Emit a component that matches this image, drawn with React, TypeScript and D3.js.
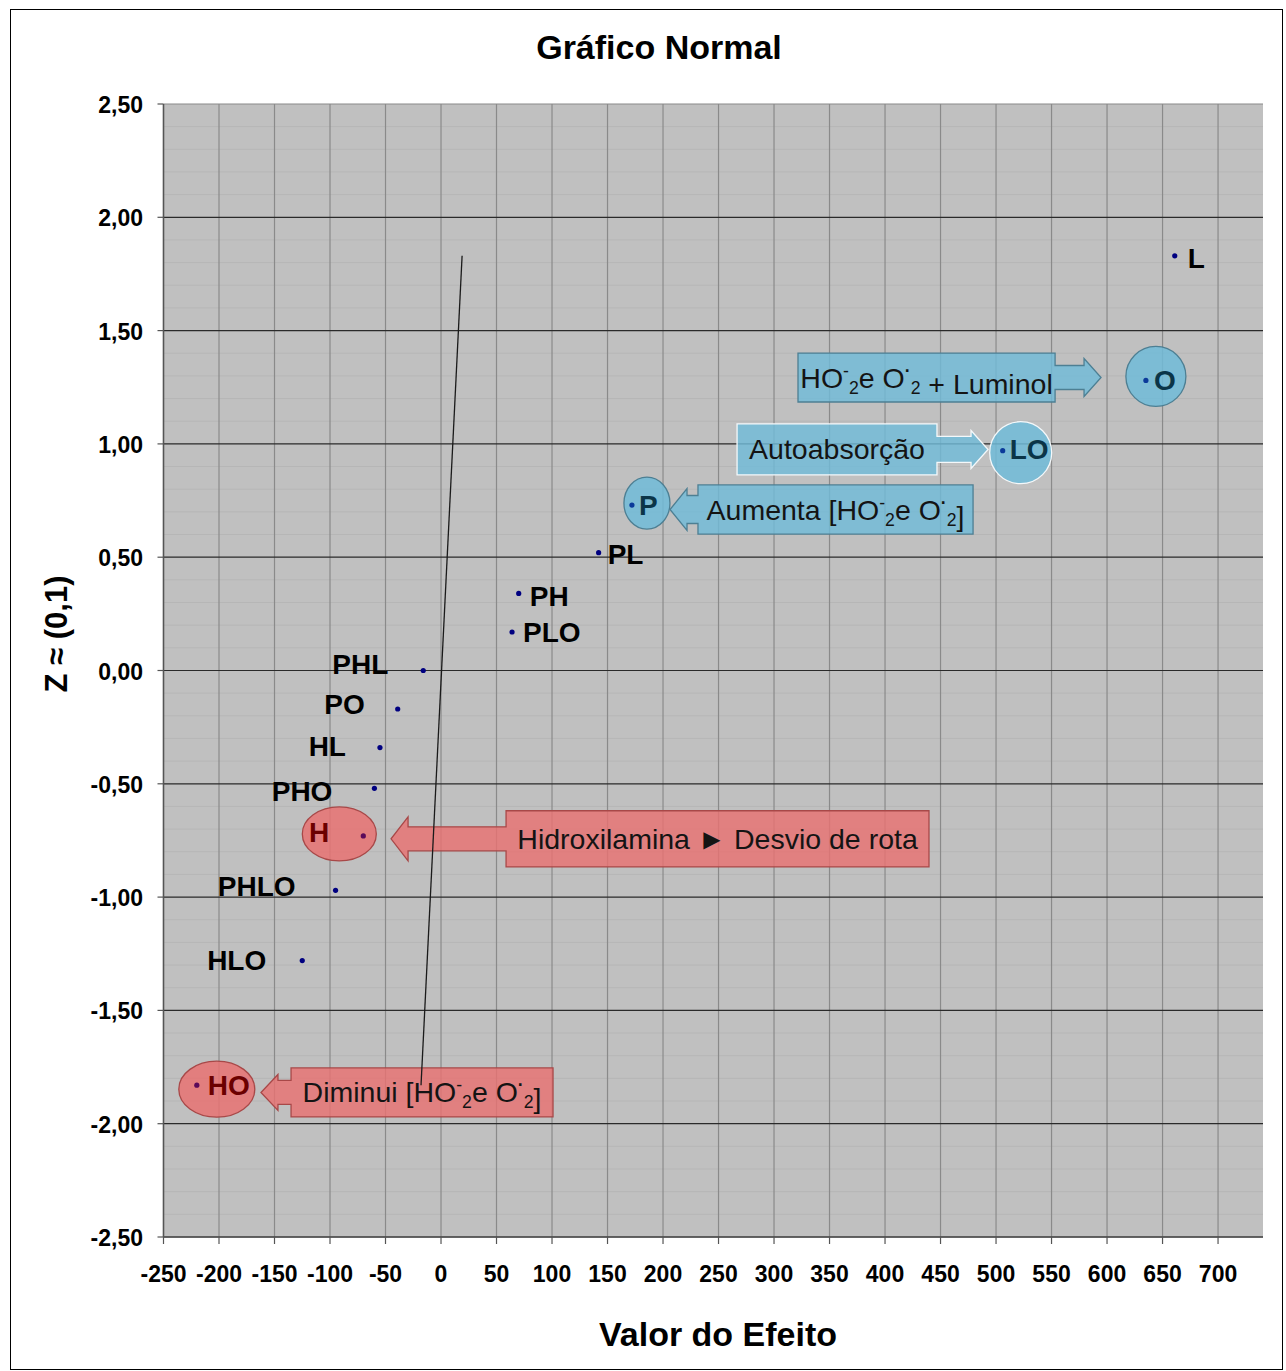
import React from "react";
import * as d3 from "d3";

// ---------- data ----------
const pointNames = ["HO", "HLO", "PHLO", "H", "PHO", "HL", "PO", "PHL", "PLO", "PH", "PL", "P", "LO", "O", "L"];
const effectValues = [-220, -125, -95, -70, -60, -55, -39, -16, 64, 70, 142, 172, 506, 635, 661];
const zValues = [-1.83, -1.28, -0.97, -0.73, -0.52, -0.34, -0.17, 0, 0.17, 0.34, 0.52, 0.73, 0.97, 1.28, 1.83];

const xTickValues = [-250, -200, -150, -100, -50, 0, 50, 100, 150, 200, 250, 300, 350, 400, 450, 500, 550, 600, 650, 700];
const yTickValues = [-2.5, -2.0, -1.5, -1.0, -0.5, 0, 0.5, 1.0, 1.5, 2.0, 2.5];
const yTickLabels = ["-2,50", "-2,00", "-1,50", "-1,00", "-0,50", "0,00", "0,50", "1,00", "1,50", "2,00", "2,50"];

const refLineX = [19, -18];
const refLineY = [1.83, -1.83];

const titleText = "Gráfico Normal";
const xAxisTitle = "Valor do Efeito";
const yAxisTitle = "Z ≈ (0,1)";

// callouts in data coords: box [x0,x1] x [yTop,yBot], arrow tip x
const calloutIds = ["luminol", "auto", "aumenta", "hidrox", "diminui"];
const calloutBoxX0 = [321.6, 266.7, 231.5, 58.6, -135.1];
const calloutBoxX1 = [553.2, 446.8, 479.3, 439.6, 100.9];
const calloutBoxYTop = [1.401, 1.088, 0.819, -0.619, -1.754];
const calloutBoxYBot = [1.185, 0.863, 0.602, -0.867, -1.970];
const calloutTipX = [594.6, 492.8, 206.3, -45, -162.2];

// ---------- layout / style ----------
const W = 1286;
const H = 1371;
const plotLeft = 163.5;
const plotRight = 1263;
const plotTop = 104;
const plotBottom = 1237;
const FONT = "'Liberation Sans', Arial, Helvetica, sans-serif";

const labelStyle: Record<string, { anchor: string; dx: number; dy: number; color: string }> = {
  L: { anchor: "start", dx: 13, dy: 12, color: "#000" },
  O: { anchor: "start", dx: 8, dy: 10, color: "#0b3548" },
  LO: { anchor: "start", dx: 7, dy: 8, color: "#0b3548" },
  P: { anchor: "start", dx: 7, dy: 10, color: "#0b3548" },
  PL: { anchor: "start", dx: 9, dy: 11, color: "#000" },
  PH: { anchor: "start", dx: 11, dy: 13, color: "#000" },
  PLO: { anchor: "start", dx: 11, dy: 10, color: "#000" },
  PHL: { anchor: "end", dx: -35, dy: 3, color: "#000" },
  PO: { anchor: "end", dx: -33, dy: 5, color: "#000" },
  HL: { anchor: "end", dx: -34, dy: 8, color: "#000" },
  PHO: { anchor: "end", dx: -42, dy: 13, color: "#000" },
  H: { anchor: "end", dx: -34, dy: 6, color: "#6b0000" },
  PHLO: { anchor: "end", dx: -40, dy: 6, color: "#000" },
  HLO: { anchor: "end", dx: -36, dy: 9, color: "#000" },
  HO: { anchor: "start", dx: 11, dy: 10, color: "#6b0000" },
};

const dotColor: Record<string, string> = { H: "#5a0a5a", HO: "#5a0a5a", O: "#0b3a9a", LO: "#0b3a9a", P: "#0b3a9a" };

const ellipseStyle: Record<string, { dx: number; dy: number; rx: number; ry: number; fill: string; stroke: string }> = {
  O: { dx: 10, dy: -4, rx: 30, ry: 30, fill: "#70bbd8", stroke: "#4d7f93" },
  LO: { dx: 18, dy: 2, rx: 31, ry: 31, fill: "#70bbd8", stroke: "#f4f8fa" },
  P: { dx: 15, dy: -2, rx: 23, ry: 26, fill: "#70bbd8", stroke: "#4d7f93" },
  H: { dx: -24, dy: -2, rx: 37, ry: 27, fill: "#e87272", stroke: "#a84848" },
  HO: { dx: 20, dy: 4, rx: 38, ry: 28, fill: "#e87272", stroke: "#a84848" },
};

const calloutStyle: Record<string, { fill: string; stroke: string; shaft: number; head: number }> = {
  luminol: { fill: "#70bbd8", stroke: "#4d7f93", shaft: 12, head: 19 },
  auto: { fill: "#70bbd8", stroke: "#f4f8fa", shaft: 13, head: 19 },
  aumenta: { fill: "#70bbd8", stroke: "#4d7f93", shaft: 14, head: 21 },
  hidrox: { fill: "#e87272", stroke: "#a84848", shaft: 12, head: 22 },
  diminui: { fill: "#e87272", stroke: "#a84848", shaft: 12, head: 18 },
};

function HO2eO2() {
  // HO⁻₂ e O·₂
  return (
    <>
      <tspan>HO</tspan>
      <tspan fontSize="0.62em" dy="-11">-</tspan>
      <tspan fontSize="0.62em" dy="17">2</tspan>
      <tspan dy="-6">e O</tspan>
      <tspan fontSize="0.62em" dy="-11" fontWeight="bold">·</tspan>
      <tspan fontSize="0.62em" dy="17">2</tspan>
      <tspan dy="-6"></tspan>
    </>
  );
}

function calloutText(id: string) {
  if (id === "luminol")
    return (
      <>
        <HO2eO2 />
        <tspan> + Luminol</tspan>
      </>
    );
  if (id === "auto") return <tspan>Autoabsorção</tspan>;
  if (id === "aumenta")
    return (
      <>
        <tspan>Aumenta [</tspan>
        <HO2eO2 />
        <tspan>]</tspan>
      </>
    );
  if (id === "hidrox") return <tspan>Hidroxilamina ► Desvio de rota</tspan>;
  return (
    <>
      <tspan>Diminui [</tspan>
      <HO2eO2 />
      <tspan>]</tspan>
    </>
  );
}

export default function App() {
  const x = d3.scaleLinear().domain([-250, 740.5]).range([plotLeft, plotRight]);
  const y = d3.scaleLinear().domain([-2.5, 2.5]).range([plotBottom, plotTop]);

  const minorY = d3.range(-25, 26).map((i) => i / 10).filter((v) => Math.abs(Math.round(v * 2) - v * 2) > 1e-6);

  const line = d3
    .line<number>()
    .x((_, i) => x(refLineX[i]))
    .y((_, i) => y(refLineY[i]));

  const callouts = calloutIds.map((id, i) => {
    const x0 = x(calloutBoxX0[i]);
    const x1 = x(calloutBoxX1[i]);
    const yT = y(calloutBoxYTop[i]);
    const yB = y(calloutBoxYBot[i]);
    const tip = x(calloutTipX[i]);
    const cy = (yT + yB) / 2;
    const st = calloutStyle[id];
    const headLen = 17;
    let p: string;
    if (tip > x1) {
      const hb = tip - headLen;
      p = `M${x0},${yT}L${x1},${yT}L${x1},${cy - st.shaft}L${hb},${cy - st.shaft}L${hb},${cy - st.head}L${tip},${cy}L${hb},${cy + st.head}L${hb},${cy + st.shaft}L${x1},${cy + st.shaft}L${x1},${yB}L${x0},${yB}Z`;
    } else {
      const hb = tip + headLen;
      p = `M${x1},${yT}L${x0},${yT}L${x0},${cy - st.shaft}L${hb},${cy - st.shaft}L${hb},${cy - st.head}L${tip},${cy}L${hb},${cy + st.head}L${hb},${cy + st.shaft}L${x0},${cy + st.shaft}L${x0},${yB}L${x1},${yB}Z`;
    }
    return { id, path: p, cx: (x0 + x1) / 2, cy, st };
  });

  return (
    <svg
      width={W}
      height={H}
      viewBox={`0 0 ${W} ${H}`}
      style={{ position: "absolute", left: 0, top: 0, background: "#fff" }}
      fontFamily={FONT}
    >
      <rect x={10.5} y={9.5} width={1272} height={1360} fill="#fff" stroke="#000" strokeWidth={1} />

      {/* title */}
      <text x={659} y={59} textAnchor="middle" fontSize={34} fontWeight="bold" fill="#000">
        {titleText}
      </text>

      {/* plot background */}
      <rect x={plotLeft} y={plotTop} width={plotRight - plotLeft} height={plotBottom - plotTop} fill="#c0c0c0" />

      {/* minor horizontal grid */}
      {minorY.map((v) => (
        <line key={"mn" + v} x1={plotLeft} x2={plotRight} y1={y(v)} y2={y(v)} stroke="#b6b6b6" strokeWidth={1} />
      ))}
      {/* vertical grid */}
      {xTickValues.map((v) => (
        <line key={"gx" + v} x1={x(v)} x2={x(v)} y1={plotTop} y2={plotBottom} stroke="#8a8a8a" strokeWidth={1.2} />
      ))}
      {/* major horizontal grid */}
      {yTickValues.map((v) => (
        <line
          key={"gy" + v}
          x1={plotLeft}
          x2={plotRight}
          y1={y(v)}
          y2={y(v)}
          stroke={v === 2.5 ? "#8a8a8a" : "#2a2a2a"}
          strokeWidth={1.2}
        />
      ))}

      {/* axes */}
      <line x1={plotLeft} x2={plotLeft} y1={plotTop} y2={plotBottom} stroke="#555" strokeWidth={1.5} />
      <line x1={plotLeft} x2={plotRight} y1={plotBottom} y2={plotBottom} stroke="#555" strokeWidth={1.5} />
      {yTickValues.map((v, i) => (
        <g key={"ty" + v}>
          <line x1={plotLeft - 6} x2={plotLeft} y1={y(v)} y2={y(v)} stroke="#555" strokeWidth={1.2} />
          <text x={143} y={y(v) + 9} textAnchor="end" fontSize={23} fontWeight="bold" fill="#000">
            {yTickLabels[i]}
          </text>
        </g>
      ))}
      {xTickValues.map((v) => (
        <g key={"tx" + v}>
          <line x1={x(v)} x2={x(v)} y1={plotBottom} y2={plotBottom + 7} stroke="#555" strokeWidth={1.2} />
          <text x={x(v)} y={plotBottom + 45} textAnchor="middle" fontSize={23} fontWeight="bold" fill="#000">
            {v}
          </text>
        </g>
      ))}

      {/* axis titles */}
      <text x={718} y={1346} textAnchor="middle" fontSize={34} fontWeight="bold" fill="#000">
        {xAxisTitle}
      </text>
      <text
        transform={`translate(67,634) rotate(-90)`}
        textAnchor="middle"
        fontSize={31}
        fontWeight="bold"
        fill="#000"
      >
        {yAxisTitle}
      </text>

      {/* callout arrows */}
      {callouts.map((c) => (
        <path key={c.id} d={c.path} fill={c.st.fill} fillOpacity={0.82} stroke={c.st.stroke} strokeWidth={1.3} />
      ))}
      {/* ellipses around highlighted points */}
      {pointNames.map((n, i) => {
        const e = ellipseStyle[n];
        if (!e) return null;
        return (
          <ellipse
            key={"el" + n}
            cx={x(effectValues[i]) + e.dx}
            cy={y(zValues[i]) + e.dy}
            rx={e.rx}
            ry={e.ry}
            fill={e.fill}
            fillOpacity={0.85}
            stroke={e.stroke}
            strokeWidth={1.3}
          />
        );
      })}
      {callouts.map((c) => (
        <text
          key={"ct" + c.id}
          x={c.cx}
          y={c.cy + 10}
          textAnchor="middle"
          fontSize={28.5}
          fill="#141414"
        >
          {calloutText(c.id)}
        </text>
      ))}

      {/* reference line */}
      <path d={line([0, 1]) || ""} stroke="#1a1a1a" strokeWidth={1.3} fill="none" />

      {/* points */}
      {pointNames.map((n, i) => (
        <circle key={"pt" + n} cx={x(effectValues[i])} cy={y(zValues[i])} r={2.6} fill={dotColor[n] || "#000080"} />
      ))}
      {pointNames.map((n, i) => {
        const s = labelStyle[n];
        return (
          <text
            key={"lb" + n}
            x={x(effectValues[i]) + s.dx}
            y={y(zValues[i]) + s.dy}
            textAnchor={s.anchor}
            fontSize={28}
            fontWeight="bold"
            fill={s.color}
          >
            {n}
          </text>
        );
      })}
    </svg>
  );
}
